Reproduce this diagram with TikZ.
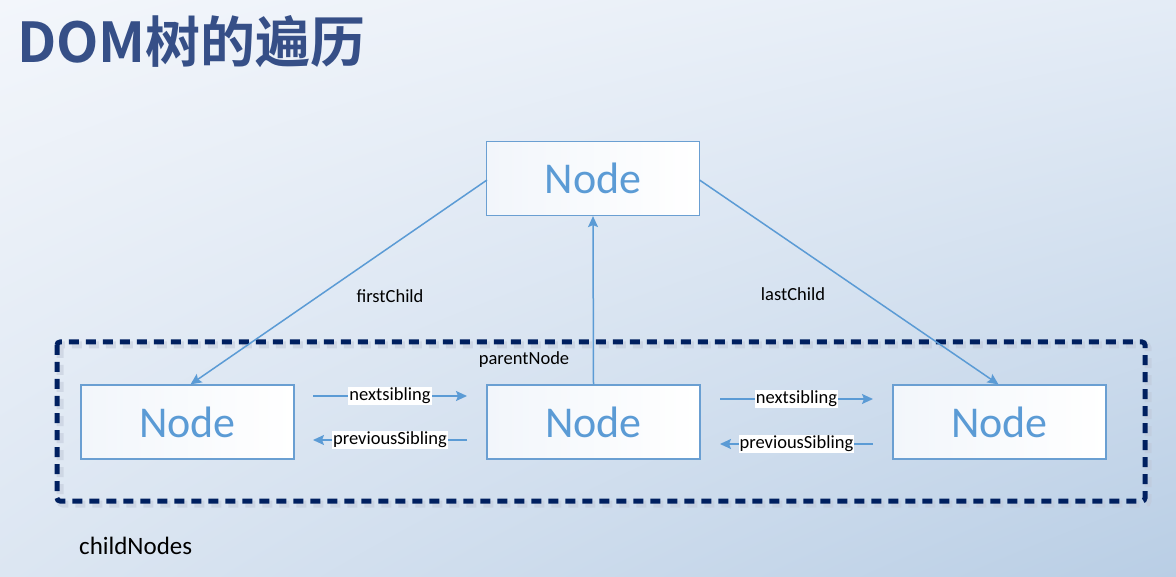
\documentclass[tikz,border=0pt]{standalone}
\usepackage{fontspec}
\setmainfont{Carlito}
\newfontfamily\cjkbold{Noto Sans CJK SC}[BoldFont=* Bold]
\usetikzlibrary{arrows.meta,shadings}
\definecolor{bgA}{HTML}{F3F6FB}
\definecolor{bgB}{HTML}{E4ECF6}
\definecolor{bgC}{HTML}{DCE6F2}
\definecolor{bgD}{HTML}{B9CEE5}
\definecolor{lineblue}{HTML}{5B9BD5}
\definecolor{boxedge}{HTML}{6A9FD2}
\definecolor{navy}{HTML}{002060}
\definecolor{titleblue}{HTML}{364F87}
\definecolor{boxfillL}{HTML}{F2F6FB}
\tikzset{
  nodebox/.style={draw=boxedge, line width=1.2pt, minimum width=213pt, minimum height=74pt,
    left color=boxfillL, right color=white, inner sep=0pt,
    text=lineblue, font=\fontsize{44}{44}\selectfont},
  conn/.style={draw=lineblue, line width=1.5pt, -{Stealth[length=11pt,width=10pt,inset=2pt]}},
  lbl/.style={font=\fontsize{18.5}{18.5}\selectfont, text=black, inner sep=0pt},
  wlbl/.style={font=\fontsize{18.5}{18.5}\selectfont, text=black, fill=white, inner sep=1pt},
}
\begin{document}
\begin{tikzpicture}[x=1pt,y=-1pt]
\useasboundingbox (0,0) rectangle (1176,577);
\shade[upper left=bgA, upper right=bgB, lower left=bgC, lower right=bgD] (0,0) rectangle (1176,577);
% title
\node[anchor=west, inner sep=0pt, text=titleblue, font=\cjkbold\bfseries\fontsize{55}{55}\selectfont] (title) at (17,42) {DOM树的遍历};
% dashed container
\draw[navy!25, line width=7pt, opacity=0.5, rounded corners=3pt, dash pattern=on 10pt off 7pt] (60,345) rectangle (1148,504);
\draw[navy, line width=5pt, rounded corners=3pt, dash pattern=on 10pt off 7pt] (57,342) rectangle (1145,501);
% nodes
\node[nodebox] (top) at (593,178.5) {Node};
\node[nodebox] (left) at (187.5,422) {Node};
\node[nodebox] (mid) at (593.5,422) {Node};
\node[nodebox] (right) at (999.5,422) {Node};
% connectors
\coordinate (tl) at (487,180);
\coordinate (tr) at (699.5,180);
\draw[conn] (tl) -- ([xshift=3pt]left.north);
\draw[conn] (tr) -- ([xshift=-1pt]right.north);
\draw[conn] (mid.north) -- (top.south);
\node[lbl] (fc) at (390,296) {firstChild};
\node[lbl] (lc) at (793,294) {lastChild};
\node[lbl] (pn) at (524,360) {parentNode};
% siblings
\coordinate (n1a) at (313,396);
\coordinate (n1b) at (467,396);
\coordinate (p1a) at (467,440);
\coordinate (p1b) at (313,440);
\coordinate (n2a) at (720,399);
\coordinate (n2b) at (873,399);
\coordinate (p2a) at (873,444);
\coordinate (p2b) at (720,444);
\draw[conn] (n1a) -- node[wlbl] (ns1) {nextsibling} (n1b);
\draw[conn] (p1a) -- node[wlbl] (ps1) {previousSibling} (p1b);
\draw[conn] (n2a) -- node[wlbl] (ns2) {nextsibling} (n2b);
\draw[conn] (p2a) -- node[wlbl] (ps2) {previousSibling} (p2b);
% childNodes
\node[anchor=west, inner sep=0pt, font=\fontsize{25}{25}\selectfont] (cn) at (79,546) {childNodes};
\end{tikzpicture}
\end{document}
